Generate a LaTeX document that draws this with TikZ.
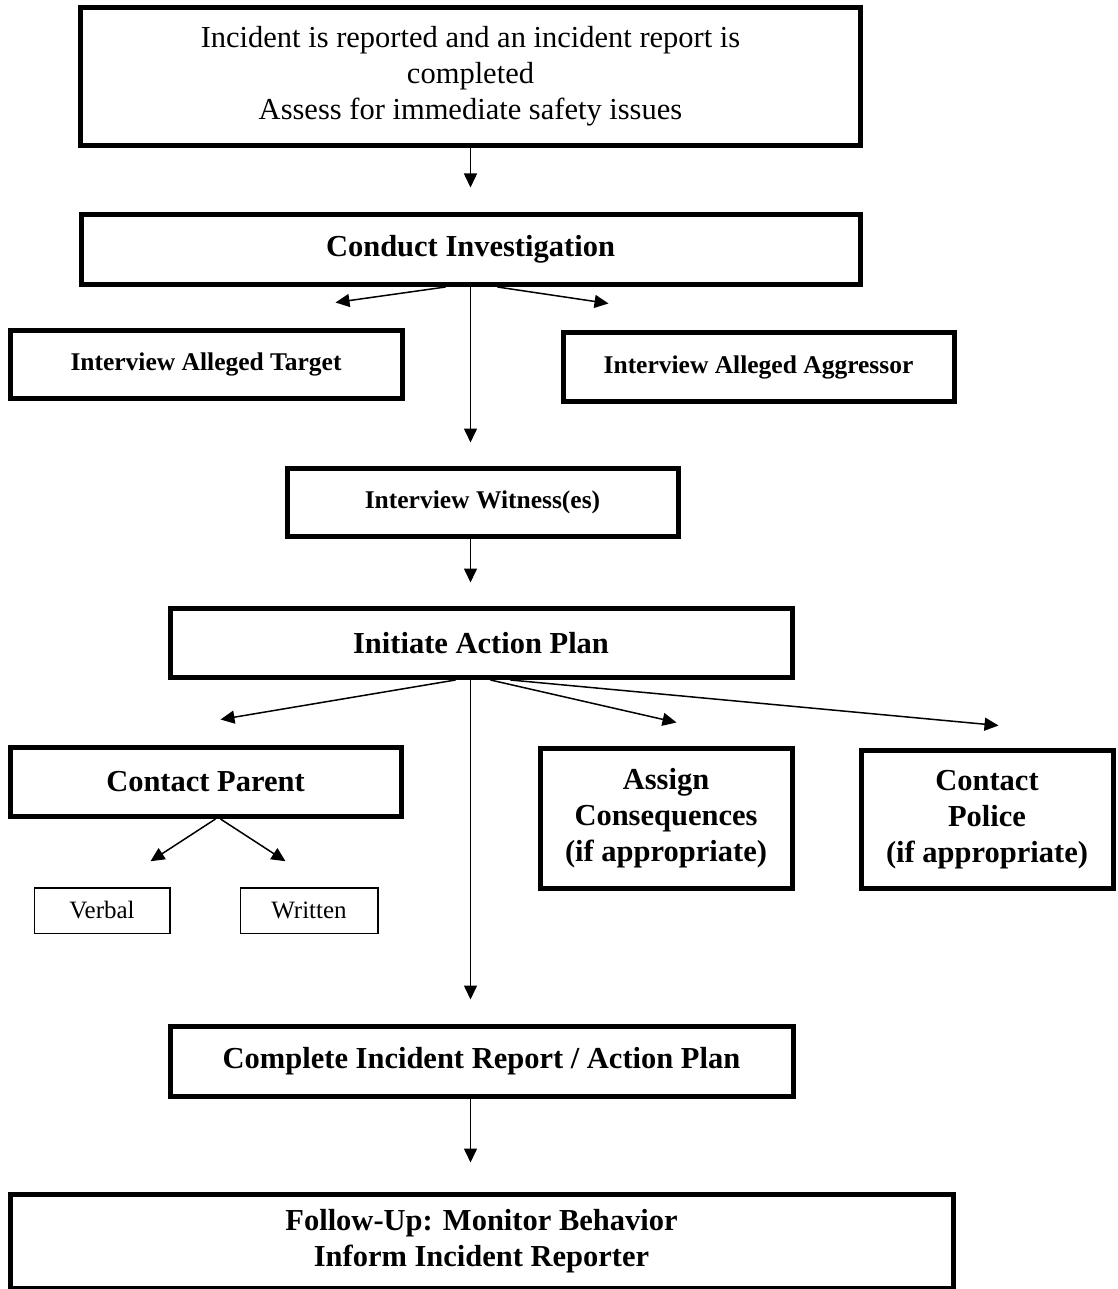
\documentclass[tikz,border=0pt]{standalone}
\usepackage{fontspec}
\setmainfont{Liberation Serif}
\usetikzlibrary{positioning,arrows.meta}

\begin{document}
\begin{tikzpicture}[->, >={Triangle[length=14pt,width=13pt]}, line width=1.5pt,
		nodes={draw, align=center, inner sep=0pt},
		bigbox/.style={line width=5pt, font=\bfseries\fontsize{30.5}{36}\selectfont},
		smallbox/.style={line width=5pt, font=\bfseries\fontsize{25.5}{31}\selectfont},
		thinbox/.style={line width=1.5pt, font=\fontsize{25}{30}\selectfont}]
		\useasboundingbox (0,0) rectangle (1117pt,-1289pt);
		\node (b1) [bigbox, font = \fontsize{30.5}{36}\selectfont, minimum width = 780pt, minimum height = 138pt] at (470.5pt,-76.5pt) {Incident is reported and an incident report is\\completed\\Assess for immediate safety issues};
		\node (b2) [bigbox, below of = b1, node distance = 173pt, minimum width = 779pt, minimum height = 70pt] {Conduct Investigation};
		\node (b3) [smallbox, below of = b2, node distance = 115pt, xshift = -264.5pt, minimum width = 392pt, minimum height = 68pt] {Interview Alleged Target};
		\node (b4) [smallbox, below of = b2, node distance = 117.5pt, xshift = 288pt, minimum width = 391pt, minimum height = 69pt] {Interview Alleged Aggressor};
		\node (b5) [smallbox, below of = b2, node distance = 253pt, xshift = 12pt, minimum width = 391pt, minimum height = 68pt] {Interview Witness(es)};
		\node (b6) [bigbox, below of = b5, node distance = 140.5pt, xshift = -1.5pt, minimum width = 622pt, minimum height = 69pt] {Initiate Action Plan};
		\node (b7) [bigbox, below of = b6, node distance = 139pt, xshift = -275.5pt, minimum width = 391pt, minimum height = 69pt] {Contact Parent};
		\node (b8) [bigbox, below of = b6, node distance = 175.5pt, xshift = 185pt, minimum width = 252pt, minimum height = 140pt] {Assign\\Consequences\\(if appropriate)};
		\node (b9) [bigbox, below of = b6, node distance = 176.5pt, xshift = 506pt, minimum width = 252pt, minimum height = 138pt] {Contact\\Police\\(if appropriate)};
		\node (b10) [thinbox, below of = b7, node distance = 128.5pt, xshift = -103.5pt, minimum width = 135.5pt, minimum height = 45.5pt] {Verbal};
		\node (b11) [thinbox, below of = b7, node distance = 128.5pt, xshift = 103.5pt, minimum width = 137.5pt, minimum height = 45.5pt] {Written};
		\node (b12) [bigbox, below of = b6, node distance = 418.5pt, xshift = 0.5pt, minimum width = 623pt, minimum height = 70pt] {Complete Incident Report / Action Plan};
		\node (b13) [bigbox, below of = b12, node distance = 180pt, minimum width = 943pt, minimum height = 94pt] {Follow-Up: Monitor Behavior\\Inform Incident Reporter};
		% main column
		\draw [shorten >= 24.5pt] (b1.south) -- (b1.south |- b2.north);
		\draw [shorten >= 23.5pt] (b2.south) -- (b2.south |- b5.north);
		\draw [shorten >= 23.5pt] (b5.south -| b2.south) -- (b6.north -| b2.south);
		\draw [shorten >= 24.5pt] (b6.south -| b2.south) -- (b12.north -| b2.south);
		\draw [shorten >= 29.5pt] (b12.south -| b2.south) -- (b13.north -| b2.south);
		% side branches
		\draw ([xshift=-25pt]b2.south) -- ([xshift=129.5pt, yshift=25.5pt]b3.north);
		\draw ([xshift=27pt]b2.south) -- ([xshift=-150pt, yshift=26.5pt]b4.north);
		\draw ([xshift=-25.5pt]b6.south) -- ([xshift=15pt, yshift=25.5pt]b7.north);
		\draw ([xshift=9.5pt]b6.south) -- ([xshift=10.5pt, yshift=23.5pt]b8.north);
		\draw ([xshift=29.5pt]b6.south) -- ([xshift=11.5pt, yshift=22.5pt]b9.north);
		\draw ([xshift=10pt]b7.south) -- ([xshift=48.5pt, yshift=25.75pt]b10.north);
		\draw ([xshift=15pt]b7.south) -- ([xshift=-23.5pt, yshift=25.75pt]b11.north);
		\end{tikzpicture}
\end{document}
